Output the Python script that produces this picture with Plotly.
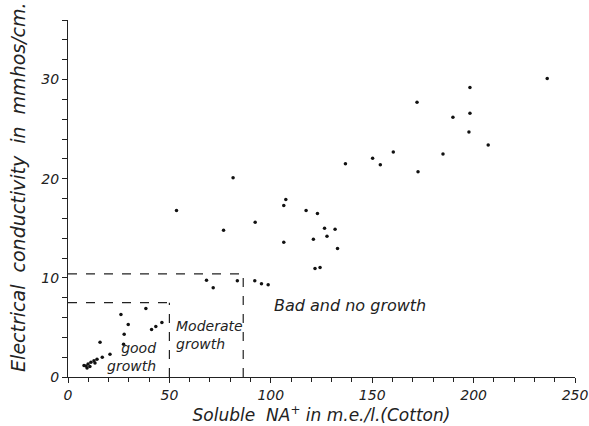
import plotly.graph_objects as go

# Soluble Na+ (m.e./l.) and electrical conductivity (mmhos/cm)
na_soluble = [
    26.1, 38.4, 29.7, 41.2, 43.3, 46.3, 27.7, 15.8, 27.4, 20.7, 16.9,
    14.3, 12.8, 11.3, 9.9, 8.9, 7.9, 10.8, 13.3, 9.4,
    68.3, 71.6, 83.5, 92.1, 95.4, 98.7,
    81.4, 53.5, 107.4, 106.4, 92.3, 76.7, 106.4,
    117.4, 123.0, 126.5, 131.7, 127.7, 121.0, 132.9, 121.8, 124.3,
    236.3, 198.2, 172.1, 189.8, 198.2, 197.7, 207.2, 184.9, 172.6,
    160.4, 150.2, 154.0, 136.8,
]
conductivity = [
    6.3, 6.9, 5.3, 4.8, 5.1, 5.5, 4.3, 3.5, 3.3, 2.3, 2.0,
    1.8, 1.65, 1.5, 1.3, 1.1, 1.15, 1.05, 1.4, 0.9,
    9.75, 9.0, 9.7, 9.7, 9.4, 9.3,
    20.1, 16.8, 17.9, 17.3, 15.6, 14.8, 13.6,
    16.8, 16.5, 15.0, 14.9, 14.2, 13.9, 12.95, 10.95, 11.05,
    30.1, 29.2, 27.7, 26.2, 26.6, 24.7, 23.4, 22.5, 20.7,
    22.7, 22.05, 21.4, 21.5,
]

# Growth zone limits (Na+ limit, EC limit)
zone_names = ["good", "moderate"]
zone_na_limit = [50, 86.4]
zone_ec_limit = [7.5, 10.4]

zone_labels = ["good<br>growth", "Moderate<br>growth", "Bad and no growth"]
label_x = [44.3, 52.5, 100.5]
label_y = [2.0, 4.2, 7.2]
label_align = ["right", "left", "left"]
label_size = [14, 14, 16]

x_ticks = [0, 50, 100, 150, 200, 250]
y_ticks = [0, 10, 20, 30]

x_title = "Soluble  NA<sup>+</sup> in m.e./l.(Cotton)"
y_title = "Electrical  conductivity  in  mmhos/cm."

ink = "#222222"
font_family = "DejaVu Sans"

fig = go.Figure()
fig.add_trace(go.Scatter(
    x=na_soluble, y=conductivity, mode="markers",
    marker=dict(color="#111111", size=3.5),
    showlegend=False, hoverinfo="x+y",
))

shapes = []
for na_lim, ec_lim in zip(zone_na_limit, zone_ec_limit):
    shapes.append(dict(type="line", xref="x", yref="y", x0=0, x1=na_lim, y0=ec_lim, y1=ec_lim,
                       line=dict(color=ink, width=1.2, dash="dash")))
    shapes.append(dict(type="line", xref="x", yref="y", x0=na_lim, x1=na_lim, y0=0, y1=ec_lim,
                       line=dict(color=ink, width=1.2, dash="dash")))

annotations = []
for txt, ax, ay, al, sz in zip(zone_labels, label_x, label_y, label_align, label_size):
    annotations.append(dict(
        text=txt, x=ax, y=ay, xref="x", yref="y", showarrow=False,
        xanchor="right" if al == "right" else "left", yanchor="middle", align=al,
        font=dict(family=font_family, size=sz, color=ink, style="italic"),
    ))
annotations.append(dict(
    text=y_title, xref="paper", yref="paper", x=-0.099, y=0.532,
    textangle=-90, showarrow=False, xanchor="center", yanchor="middle",
    font=dict(family=font_family, size=19, color=ink, style="italic"),
))

fig.update_layout(
    width=589, height=426,
    margin=dict(l=68, r=14, t=20, b=49),
    paper_bgcolor="white", plot_bgcolor="white",
    shapes=shapes, annotations=annotations,
    font=dict(family=font_family, color=ink),
)
fig.update_xaxes(
    range=[0, 250], tickvals=x_ticks, showgrid=False, zeroline=False, automargin=False,
    showline=True, linecolor=ink, linewidth=1.2,
    ticks="outside", ticklen=5, tickcolor=ink,
    minor=dict(dtick=10, ticks="outside", ticklen=4, tickcolor=ink),
    tickfont=dict(size=14, style="italic", color=ink),
    title=dict(text=x_title, standoff=4,
               font=dict(size=17, style="italic", color=ink)),
)
fig.update_yaxes(
    range=[0, 36], tickvals=y_ticks, showgrid=False, zeroline=False, automargin=False,
    showline=True, linecolor=ink, linewidth=1.2,
    ticks="outside", ticklen=5, tickcolor=ink,
    minor=dict(dtick=2, ticks="outside", ticklen=5, tickcolor=ink),
    tickfont=dict(size=14, style="italic", color=ink),
)

fig.write_html("out.html")
